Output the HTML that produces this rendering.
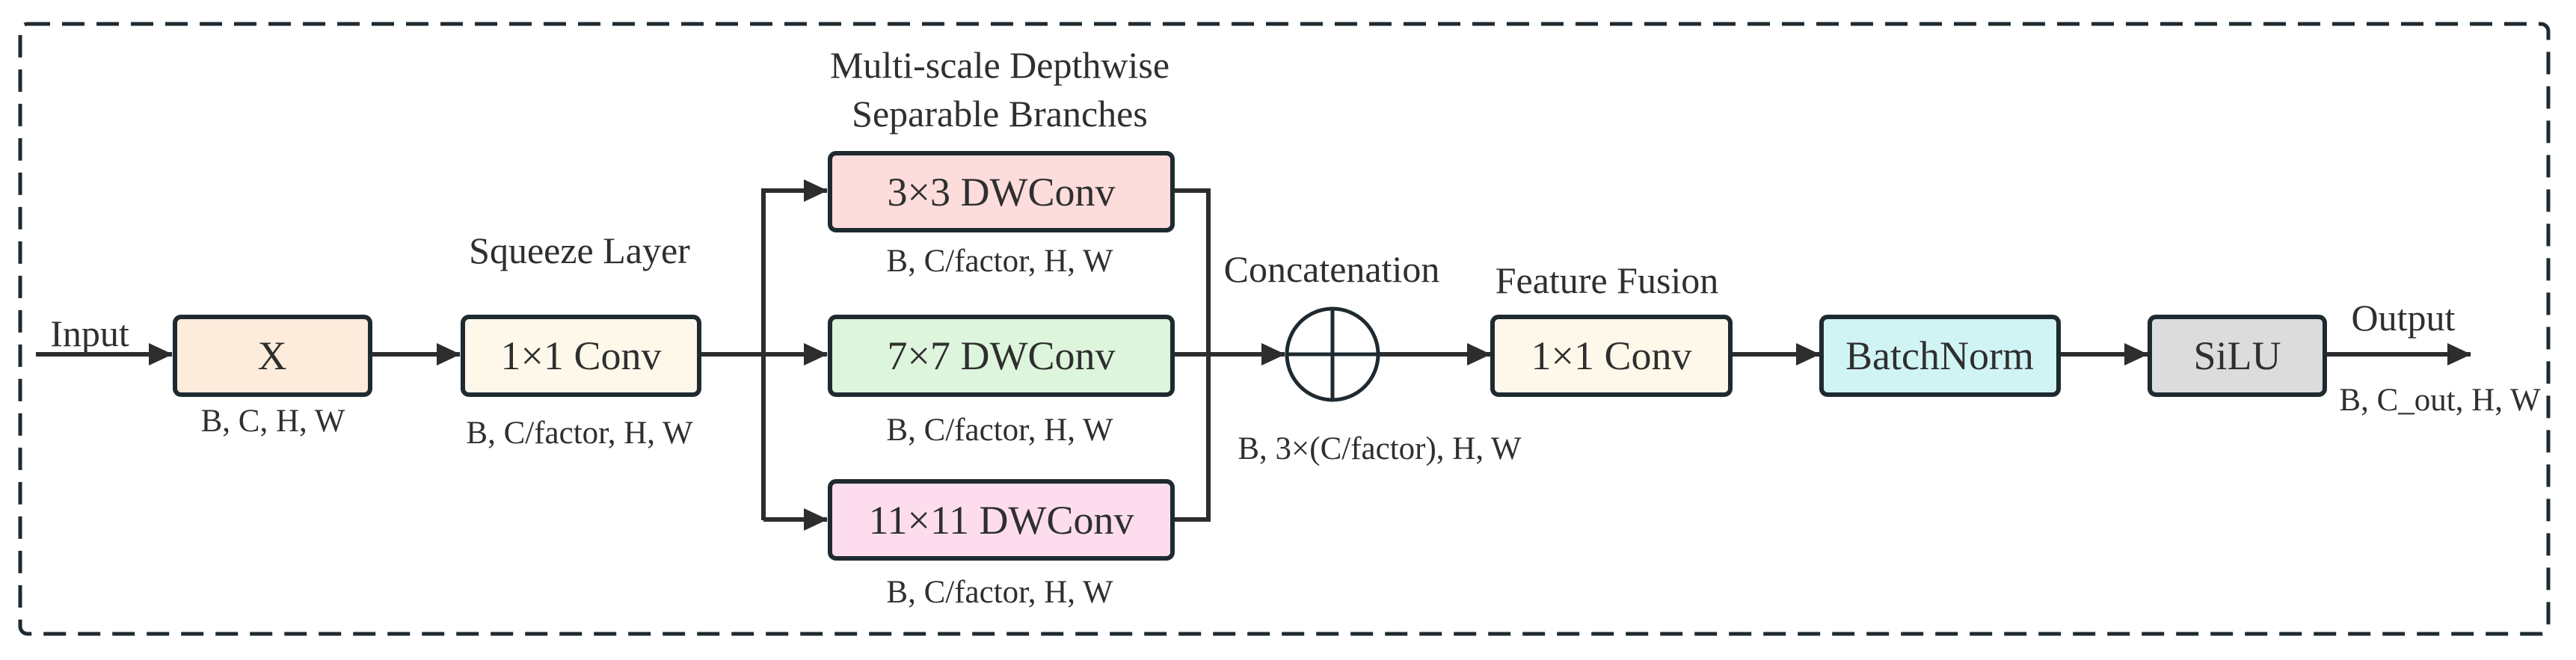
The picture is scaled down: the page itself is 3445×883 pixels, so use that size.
<!DOCTYPE html>
<html><head><meta charset="utf-8"><style>
html,body{margin:0;padding:0;background:#fff;}
svg{display:block;}
</style></head><body>
<svg width="3445" height="883" viewBox="0 0 3445 883" xmlns="http://www.w3.org/2000/svg">
<defs>
<marker id="ah" markerWidth="32" markerHeight="30" refX="31" refY="15" markerUnits="userSpaceOnUse" orient="auto">
<path d="M0,0 L32,15 L0,30 Z" fill="#2d2d2d"/>
</marker>
</defs>
<rect x="27" y="32" width="3381" height="816" rx="10" fill="none" stroke="#1e2a30" stroke-width="5" stroke-dasharray="30,16"/>

<g stroke="#2d2d2d" stroke-width="6" fill="none">
<line x1="48" y1="474" x2="230" y2="474" marker-end="url(#ah)"/>
<line x1="496" y1="474" x2="615" y2="474" marker-end="url(#ah)"/>
<polyline points="935,474 1021,474"/>
<polyline points="1021,696 1021,255 1106,255" marker-end="url(#ah)"/>
<line x1="1021" y1="474" x2="1106" y2="474" marker-end="url(#ah)"/>
<polyline points="1021,695 1106,695" marker-end="url(#ah)"/>
<polyline points="1568,255 1616,255 1616,695 1568,695"/>
<line x1="1568" y1="474" x2="1718" y2="474" marker-end="url(#ah)"/>
<line x1="1844" y1="474" x2="1993" y2="474" marker-end="url(#ah)"/>
<line x1="2314" y1="474" x2="2433" y2="474" marker-end="url(#ah)"/>
<line x1="2753" y1="474" x2="2872" y2="474" marker-end="url(#ah)"/>
<line x1="3109" y1="474" x2="3304" y2="474" marker-end="url(#ah)"/>
</g>

<g stroke="#1e2a30" stroke-width="6">
<rect x="234" y="424" width="261" height="104" rx="8" fill="#fdebdc"/>
<rect x="619" y="424" width="316" height="104" rx="8" fill="#fdf8ea"/>
<rect x="1110" y="205" width="458" height="103" rx="8" fill="#fddcdc"/>
<rect x="1110" y="424" width="458" height="104" rx="8" fill="#ddf5dc"/>
<rect x="1110" y="644" width="458" height="103" rx="8" fill="#fddded"/>
<rect x="1996" y="424" width="318" height="104" rx="8" fill="#fdf8ea"/>
<rect x="2436" y="424" width="317" height="104" rx="8" fill="#d0f4f4"/>
<rect x="2875" y="424" width="234" height="104" rx="8" fill="#dcdcdc"/>
</g>
<g stroke="#1e2a30" stroke-width="5" fill="none">
<circle cx="1782" cy="474" r="61"/>
<line x1="1721" y1="474" x2="1843" y2="474"/>
<line x1="1782" y1="413" x2="1782" y2="535"/>
</g>

<g font-family="Liberation Serif, serif" fill="#2f2f2f" text-anchor="middle">
<g font-size="54">
<text x="364" y="494">X</text>
<text x="777" y="494">1×1 Conv</text>
<text x="1339" y="275">3×3 DWConv</text>
<text x="1339" y="494">7×7 DWConv</text>
<text x="1339" y="714">11×11 DWConv</text>
<text x="2155" y="494">1×1 Conv</text>
<text x="2594" y="494">BatchNorm</text>
<text x="2992" y="494">SiLU</text>
</g>
<g font-size="50">
<text x="120" y="463">Input</text>
<text x="775" y="352">Squeeze Layer</text>
<text x="1337" y="104">Multi-scale Depthwise</text>
<text x="1337" y="169">Separable Branches</text>
<text x="1781" y="377">Concatenation</text>
<text x="2149" y="392">Feature Fusion</text>
<text x="3214" y="442">Output</text>
</g>
<g font-size="43">
<text x="365" y="577">B, C, H, W</text>
<text x="775" y="593">B, C/factor, H, W</text>
<text x="1337" y="363">B, C/factor, H, W</text>
<text x="1337" y="589">B, C/factor, H, W</text>
<text x="1337" y="806">B, C/factor, H, W</text>
<text x="1845" y="614">B, 3×(C/factor), H, W</text>
<text x="3263" y="549">B, C_out, H, W</text>
</g>
</g>
</svg>
</body></html>
